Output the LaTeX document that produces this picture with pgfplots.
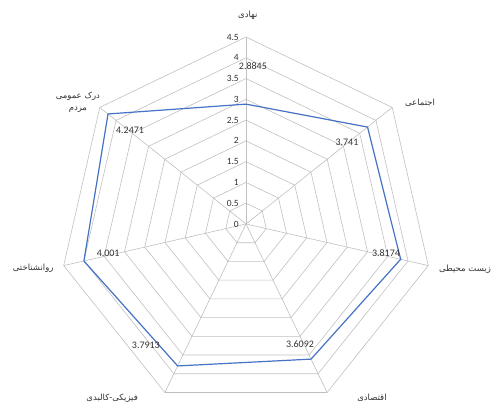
\documentclass[border=0pt]{standalone}
\usepackage{fontspec}
\usepackage{pgfplots}
\pgfplotsset{compat=1.18}
\usepgfplotslibrary{polar}
\setmainfont{Carlito}
\newfontfamily\arabicfont[Script=Arabic]{DejaVu Sans}
\TeXXeTstate=1
\definecolor{gridgray}{RGB}{192,192,192}
\definecolor{serieblue}{RGB}{68,114,196}
\definecolor{txt}{RGB}{50,50,50}
\begin{document}
\begin{tikzpicture}
\begin{polaraxis}[
  hide axis, scale only axis, width=374pt, height=374pt,
  xmin=0, xmax=360, ymin=0, ymax=4.5, clip=false,
  /pgf/number format/assume math mode=true,
]
\coordinate (c) at (axis cs:0,0);
% grid heptagons
\pgfplotsinvokeforeach{0.5,1,1.5,2,2.5,3,3.5,4,4.5}{
  \addplot[gridgray, line width=0.6pt, mark=none] coordinates {(90,#1) (38.5714,#1) (-12.8571,#1) (-64.2857,#1) (-115.7143,#1) (-167.1429,#1) (141.4286,#1) (90,#1)};
}
% spokes
\pgfplotsinvokeforeach{90,38.5714,-12.8571,-64.2857,-115.7143,-167.1429,141.4286}{
  \addplot[gridgray, line width=0.6pt, mark=none] coordinates {(#1,0) (#1,4.5)};
}
% data
\addplot[serieblue, line width=1.2pt, mark=none] coordinates {
  (90,2.8845) (38.5714,3.741) (-12.8571,3.8174) (-64.2857,3.6092)
  (-115.7143,3.7913) (-167.1429,4.001) (141.4286,4.2471) (90,2.8845)};
% radial tick labels
\pgfplotsinvokeforeach{0,0.5,1,1.5,2,2.5,3,3.5,4,4.5}{
  \node[anchor=east, font=\fontsize{9.5}{10}\selectfont, text=txt, inner sep=0pt, xshift=-7pt] at (axis cs:90,#1) {#1};
}
% data labels
\begin{scope}[every node/.style={font=\fontsize{10}{10}\selectfont, text=txt, inner sep=0pt}]
\node at (axis cs:87.5,3.80) {2.8845};
\node at (axis cs:39.1,3.13) {3.741};
\node at (axis cs:-11.7,3.44) {3.8174};
\node at (axis cs:-65.8,3.17) {3.6092};
\node at (axis cs:-129.6,3.78) {3.7913};
\node at (axis cs:-168.1,3.39) {4.001};
\node at (axis cs:141,3.59) {4.2471};
\end{scope}
% category labels
\begin{scope}[every node/.style={font=\arabicfont\fontsize{8.5}{12}\selectfont, text=txt, inner sep=0pt, align=center}]
\node at (axis cs:89.5,5.03) {\beginR نهادی\endR};
\node at (axis cs:34.8,5.10) {\beginR اجتماعی\endR};
\node at (axis cs:-11.6,5.38) {\beginR زیست محیطی\endR};
\node at (axis cs:-54.1,5.17) {\beginR اقتصادی\endR};
\node at (axis cs:-127.6,5.28) {\beginR فیزیکی-کالبدی\endR};
\node at (axis cs:-168.3,5.23) {\beginR روانشناختی\endR};
\node at (axis cs:144,5.0) {\beginR درک عمومی\endR\\\beginR مردم\endR};
\end{scope}
\end{polaraxis}
\pgfresetboundingbox
\path ([shift={(-246pt,-179pt)}]c) rectangle ([shift={(252pt,224pt)}]c);
\end{tikzpicture}
\end{document}
